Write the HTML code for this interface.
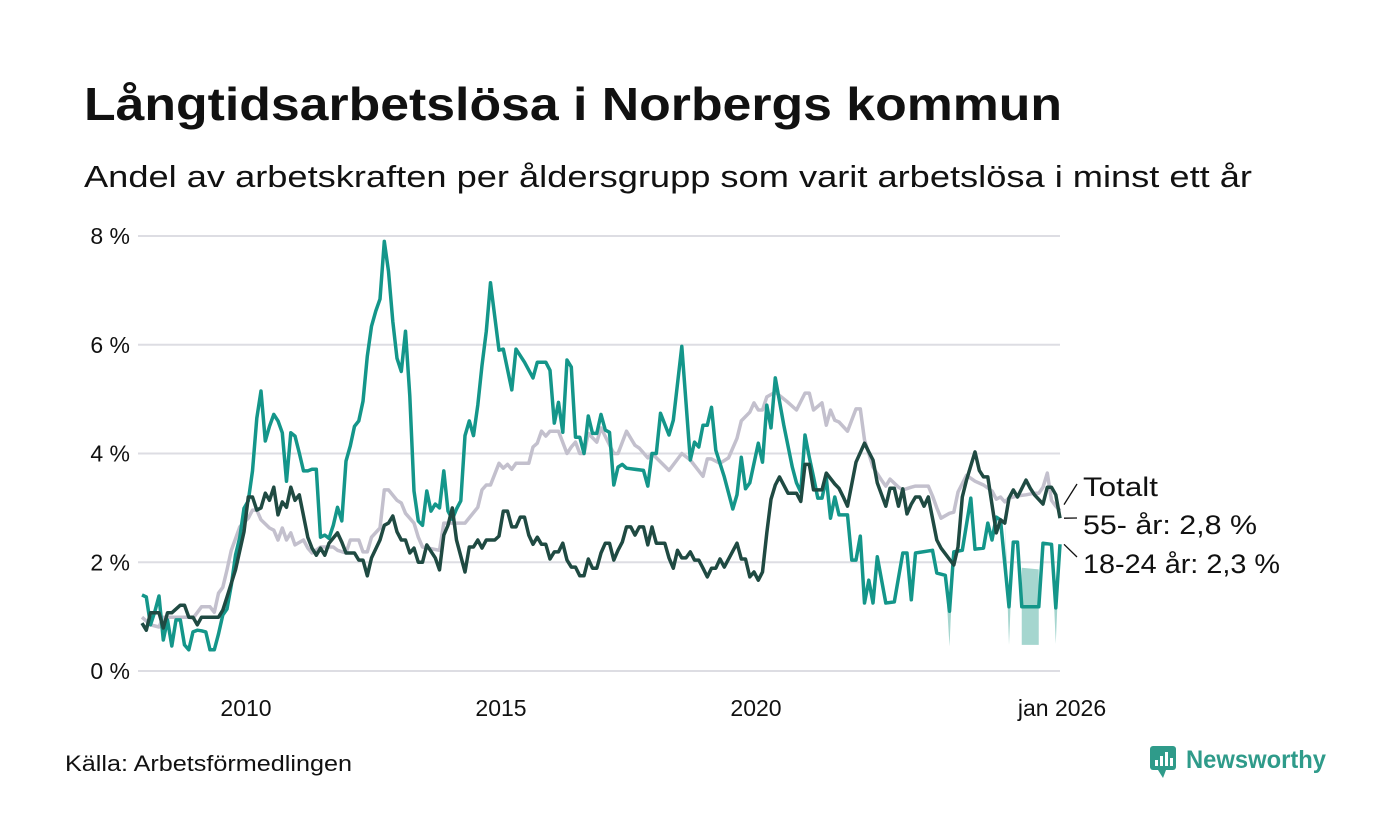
<!DOCTYPE html>
<html><head><meta charset="utf-8"><style>
html,body{margin:0;padding:0;background:#fff;}
svg{display:block;font-family:"Liberation Sans","DejaVu Sans",sans-serif;}
</style></head><body>
<svg id="chart" width="1400" height="840" viewBox="0 0 1400 840" xmlns="http://www.w3.org/2000/svg">
<text x="84" y="120" font-size="46" font-weight="bold" fill="#111" textLength="978" lengthAdjust="spacingAndGlyphs">Långtidsarbetslösa i Norbergs kommun</text>
<text x="84" y="187" font-size="31" fill="#111" textLength="1168" lengthAdjust="spacingAndGlyphs">Andel av arbetskraften per åldersgrupp som varit arbetslösa i minst ett år</text>
<g id="grid"></g>
<g id="yaxis"></g>
<g id="xaxis"></g>
<g id="series"></g>
<g id="labels"></g>
<text x="65" y="771" font-size="22" fill="#111" textLength="287" lengthAdjust="spacingAndGlyphs">Källa: Arbetsförmedlingen</text>
<g>
<rect x="1150" y="746" width="26" height="24" rx="3" fill="#2f9b8a"/>
<path d="M1158 770 L1163 778 L1166 770 Z" fill="#2f9b8a"/>
<rect x="1155" y="760" width="3" height="6" fill="#fff"/>
<rect x="1160" y="756" width="3" height="10" fill="#fff"/>
<rect x="1165" y="752" width="3" height="14" fill="#fff"/>
<rect x="1170" y="758" width="3" height="8" fill="#fff"/>
<text x="1186" y="768" font-size="25" font-weight="bold" fill="#2f9b8a" textLength="140" lengthAdjust="spacingAndGlyphs">Newsworthy</text>
</g>
</svg>
<script>
// months since Jan 2008
const yTicks = [0, 2, 4, 6, 8];
const yTickLabels = ["0 %", "2 %", "4 %", "6 %", "8 %"];
const xTicks = [24, 84, 144, 216];
const xTickLabels = ["2010", "2015", "2020", "jan 2026"];

const youthMonths = [0,1,2,3,4,5,6,7,8,9,10,11,12,13,14,15,16,17,18,19,20,21,22,23,24,25,26,27,28,29,30,31,32,33,34,35,36,37,38,39,40,41,42,43,44,45,46,47,48,49,50,51,52,53,54,55,56,57,58,59,60,61,62,63,64,65,66,67,68,69,70,71,72,73,74,75,76,77,78,79,80,81,82,84,85,87,88,90,92,93,95,96,97,98,99,100,101,102,103,104,105,106,107,108,109,110,111,112,113,114,118,119,120,121,122,124,125,127,129,130,131,132,133,134,135,137,139,140,141,142,143,145,146,147,148,149,151,153,154,155,156,157,158,159,160,161,162,163,164,166,167,168,169,170,171,172,173,175,177,179,180,181,182,186,187,189,190,191,193,195,196,198,199,200,201,202,204,205,206,207,211,212,214,215,216];
const youthValues = [1.40,1.36,0.85,1.09,1.38,0.57,0.94,0.46,0.94,0.94,0.48,0.39,0.72,0.75,0.74,0.72,0.39,0.39,0.68,1.03,1.14,1.58,2.13,2.46,2.99,3.13,3.68,4.65,5.15,4.23,4.50,4.72,4.60,4.38,3.49,4.38,4.32,4.01,3.68,3.68,3.71,3.71,2.46,2.50,2.44,2.68,3.01,2.76,3.86,4.14,4.50,4.60,4.96,5.79,6.34,6.62,6.84,7.90,7.35,6.43,5.75,5.51,6.25,5.06,3.31,2.76,2.68,3.31,2.94,3.07,3.00,3.68,2.94,2.79,2.98,3.13,4.33,4.60,4.33,4.89,5.62,6.25,7.14,5.90,5.92,5.17,5.92,5.68,5.39,5.68,5.68,5.53,4.56,4.94,4.39,5.72,5.59,4.30,4.30,4.00,4.69,4.37,4.37,4.72,4.43,4.39,3.42,3.75,3.80,3.73,3.69,3.40,4.00,4.00,4.74,4.34,4.61,5.97,3.88,4.21,4.12,4.52,4.52,4.85,4.06,3.57,2.98,3.24,3.93,3.35,3.46,4.19,3.84,4.89,4.47,5.39,4.52,3.75,3.46,3.29,4.34,3.93,3.57,3.18,3.18,3.55,2.81,3.20,2.87,2.87,2.04,2.04,2.48,1.25,1.67,1.25,2.10,1.25,1.27,2.17,2.17,1.31,2.17,2.22,1.80,1.76,1.10,2.19,2.22,3.18,2.24,2.26,2.72,2.41,2.83,2.78,1.18,2.37,2.37,1.18,1.18,2.35,2.33,1.16,2.33];

const seniorMonths = [0,1,2,4,5,6,7,9,10,11,12,13,14,18,19,20,22,24,25,26,27,28,29,30,31,32,33,34,35,36,37,39,40,41,42,43,44,46,47,48,50,51,52,53,54,56,57,58,59,60,61,62,63,64,65,66,67,69,70,71,72,73,74,76,77,78,79,80,81,83,84,85,86,87,88,89,90,91,92,93,94,95,96,97,98,99,100,101,102,103,104,105,106,107,108,109,110,111,112,113,114,115,116,117,118,119,120,121,123,124,125,126,127,128,129,130,131,132,133,134,135,136,137,140,141,142,143,144,145,146,147,148,149,150,152,154,155,156,157,158,160,161,163,164,165,166,168,170,171,172,173,175,176,177,178,179,180,181,182,183,184,185,187,188,191,192,193,194,196,197,198,199,201,202,203,204,205,206,208,209,210,212,213,214,215,216];
const seniorValues = [0.88,0.75,1.07,1.07,0.79,1.07,1.07,1.21,1.21,0.99,0.99,0.85,0.99,0.99,1.12,1.36,1.86,2.56,3.20,3.20,2.96,3.00,3.27,3.14,3.38,2.87,3.11,3.01,3.38,3.14,3.24,2.46,2.26,2.13,2.26,2.13,2.35,2.54,2.37,2.17,2.17,2.04,2.04,1.75,2.08,2.41,2.68,2.72,2.85,2.56,2.41,2.41,2.17,2.26,2.00,2.00,2.32,2.08,1.86,2.50,2.68,3.00,2.41,1.82,2.28,2.28,2.41,2.26,2.41,2.41,2.48,2.94,2.94,2.65,2.65,2.83,2.83,2.50,2.33,2.46,2.33,2.33,2.06,2.19,2.19,2.35,2.04,1.91,1.91,1.75,1.75,2.06,1.89,1.89,2.17,2.35,2.35,2.04,2.22,2.37,2.65,2.65,2.50,2.65,2.65,2.32,2.65,2.35,2.35,2.08,1.89,2.22,2.08,2.08,2.19,2.04,2.04,1.89,1.73,1.89,1.89,2.06,1.91,2.35,2.06,2.06,1.73,1.82,1.67,1.82,2.54,3.16,3.42,3.57,3.27,3.27,3.12,3.80,3.80,3.33,3.33,3.64,3.44,3.36,3.20,3.03,3.84,4.19,4.03,3.88,3.46,3.03,3.36,3.36,3.03,3.35,2.89,3.07,3.20,3.20,3.03,3.20,2.41,2.26,1.95,2.28,3.20,3.51,4.03,3.69,3.57,3.57,2.54,2.78,2.72,3.18,3.33,3.20,3.51,3.36,3.24,3.07,3.38,3.38,3.24,2.81];

const totalMonths = [0,2,4,5,8,11,12,14,16,17,18,19,20,21,23,25,26,27,28,30,31,32,33,34,35,36,38,39,40,42,45,46,48,49,51,52,53,54,56,57,58,60,61,62,64,65,66,70,71,76,79,80,81,82,84,85,86,87,88,91,92,93,94,95,96,98,100,101,102,103,104,105,107,108,111,112,114,116,117,119,120,124,127,129,132,133,134,136,138,140,141,143,144,145,146,147,149,152,154,156,157,158,160,161,162,163,164,166,168,169,170,172,174,175,176,178,179,181,182,185,186,187,188,190,191,192,194,196,198,200,201,202,203,204,206,208,210,211,212,213,214,215,216];
const totalValues = [0.99,0.85,0.81,0.99,0.99,0.99,0.97,1.18,1.18,1.08,1.43,1.54,1.86,2.22,2.65,2.81,2.96,2.96,2.78,2.63,2.59,2.41,2.63,2.41,2.54,2.32,2.41,2.26,2.17,2.28,2.28,2.22,2.17,2.41,2.41,2.19,2.19,2.46,2.63,3.33,3.33,3.14,3.09,2.90,2.72,2.46,2.28,2.22,2.72,2.72,3.01,3.33,3.42,3.42,3.82,3.73,3.80,3.71,3.82,3.82,4.12,4.19,4.41,4.32,4.41,4.41,4.00,4.12,4.21,4.00,4.00,4.37,4.21,4.47,4.00,4.00,4.41,4.15,4.10,3.92,4.00,3.69,4.00,3.88,3.58,3.90,3.90,3.82,3.92,4.28,4.60,4.76,4.93,4.80,4.80,5.04,5.13,4.94,4.80,5.11,5.11,4.80,4.93,4.52,4.80,4.61,4.58,4.41,4.82,4.82,4.25,3.75,3.51,3.40,3.53,3.38,3.33,3.38,3.40,3.40,3.22,3.00,2.81,2.90,2.92,3.29,3.60,3.49,3.42,3.31,3.16,3.20,3.11,3.18,3.22,3.24,3.27,3.27,3.38,3.64,3.14,3.03,2.95];

// uncertainty band segments for 18-24 series
const bandMonths = [[189,190,191],[203,204,205],[207,211],[214,215,216]];
const bandHigh = [[1.76,1.10,2.19],[2.78,1.18,2.37],[1.90,1.87],[2.33,1.16,2.33]];
const bandLow = [[1.76,0.45,2.19],[2.78,0.48,2.37],[0.48,0.48],[2.33,0.50,2.33]];

const endLabels = ["Totalt", "55- år: 2,8 %", "18-24 år: 2,3 %"];

const NS = "http://www.w3.org/2000/svg";
const X0 = 142, X1 = 1060, M1 = 216;
const Y0 = 671, Y1 = 236, V1 = 8;
function xScale(m){ return X0 + (X1 - X0) * m / M1; }
function yScale(v){ return Y0 - (Y0 - Y1) * v / V1; }
function mk(tag, attrs, parent){
  const e = document.createElementNS(NS, tag);
  for (const k in attrs) e.setAttribute(k, attrs[k]);
  parent.appendChild(e);
  return e;
}
const grid = document.getElementById('grid');
const yaxis = document.getElementById('yaxis');
const xaxis = document.getElementById('xaxis');
const series = document.getElementById('series');
const labels = document.getElementById('labels');

yTicks.forEach((v, i) => {
  const l = mk('line', {x1: 138, x2: 1060, y1: yScale(v), y2: yScale(v), stroke: '#dddde3', 'stroke-width': 2}, grid);
  
  
  const t = mk('text', {x: 130, y: yScale(v) + 8, 'font-size': 23, 'text-anchor': 'end', fill: '#111'}, yaxis);
  t.textContent = yTickLabels[i];
  
  
});
xTicks.forEach((m, i) => {
  const t = mk('text', {x: xScale(m) + 2, y: 716, 'font-size': 23, 'text-anchor': 'middle', fill: '#111'}, xaxis);
  t.textContent = xTickLabels[i];
  
  
});

bandMonths.forEach((ms, s) => {
  let d = '';
  ms.forEach((m, i) => { d += (i ? 'L' : 'M') + xScale(m) + ' ' + yScale(bandHigh[s][i]); });
  for (let i = ms.length - 1; i >= 0; i--) d += 'L' + xScale(ms[i]) + ' ' + yScale(bandLow[s][i]);
  const p = mk('path', {d: d + 'Z', fill: '#a5d6cf'}, series);
  
  
});

function line(ms, vs, color, name){
  const d = ms.map((m, i) => (i ? 'L' : 'M') + xScale(m).toFixed(1) + ' ' + yScale(vs[i]).toFixed(1)).join('');
  const p = mk('path', {d: d, fill: 'none', stroke: color, 'stroke-width': 3.5, 'stroke-linejoin': 'round'}, series);
  
  
}
line(totalMonths, totalValues, '#c3c0cd', 'line-totalt');
line(youthMonths, youthValues, '#14968a', 'line-18-24');
line(seniorMonths, seniorValues, '#1f4a42', 'line-55-plus');

const labelY = [487, 525, 564];
const labelW = [75, 174, 197];
const endVals = [totalValues[totalValues.length-1], seniorValues[seniorValues.length-1], youthValues[youthValues.length-1]];
endLabels.forEach((txt, i) => {
  const ly = mk('line', {x1: 1064, y1: yScale(endVals[i]) + (i === 0 ? -6 : 0), x2: 1077, y2: labelY[i] - 7 + (i === 0 ? 4 : 0), stroke: '#111', 'stroke-width': 1.3}, labels);
  
  
  const t = mk('text', {x: 1083, y: labelY[i] + 9, 'font-size': 27, fill: '#111', textLength: labelW[i], lengthAdjust: 'spacingAndGlyphs'}, labels);
  t.textContent = txt;
  
  
});
</script>
</body></html>
